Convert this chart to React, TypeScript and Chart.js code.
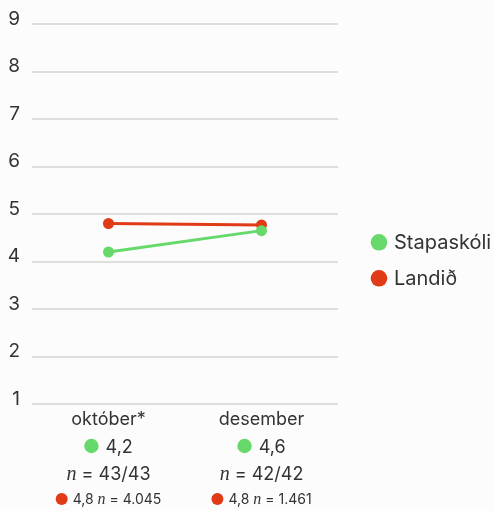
import React, { useEffect, useRef } from "react";
import { Chart, registerables } from "chart.js";

Chart.register(...registerables);

const categories = ["október*", "desember"];
const stapaskoliValues = [4.2, 4.65];
const landidValues = [4.8, 4.77];
const stapaskoliLabels = ["4,2", "4,6"];
const stapaskoliN = ["43/43", "42/42"];
const landidLabels = ["4,8", "4,8"];
const landidN = ["4.045", "1.461"];
const seriesNames = ["Stapaskóli", "Landið"];
const yTicks = [1, 2, 3, 4, 5, 6, 7, 8, 9];

const GREEN = "#66d96a";
const RED = "#e03a16";
const TEXT = "#333333";
const FONT = "Inter";
const NFONT = "'Liberation Serif'";

type Seg = { kind: "text"; text: string; font: string } | { kind: "circle"; r: number; color: string; gap: number; dy: number };

function drawRow(ctx: CanvasRenderingContext2D, cx: number, baseline: number, segs: Seg[]) {
  let total = 0;
  const widths: number[] = [];
  for (const s of segs) {
    if (s.kind === "text") {
      ctx.font = s.font;
      const w = ctx.measureText(s.text).width;
      widths.push(w);
      total += w;
    } else {
      const w = s.r * 2 + s.gap;
      widths.push(w);
      total += w;
    }
  }
  let x = cx - total / 2;
  segs.forEach((s, i) => {
    if (s.kind === "text") {
      ctx.font = s.font;
      ctx.fillStyle = TEXT;
      ctx.textAlign = "left";
      ctx.textBaseline = "alphabetic";
      ctx.fillText(s.text, x, baseline);
    } else {
      ctx.beginPath();
      ctx.fillStyle = s.color;
      ctx.arc(x + s.r, baseline - s.dy, s.r, 0, Math.PI * 2);
      ctx.fill();
    }
    x += widths[i];
  });
}

const labelsPlugin = {
  id: "customLabels",
  afterDraw(chart: any) {
    const ctx: CanvasRenderingContext2D = chart.ctx;
    const xs = chart.scales.x;
    ctx.save();
    categories.forEach((cat, i) => {
      const cx = xs.getPixelForValue(i);
      drawRow(ctx, cx, 424.5, [{ kind: "text", text: cat, font: `18px ${FONT}` }]);
      drawRow(ctx, cx, 452.5, [
        { kind: "circle", r: 7.2, color: GREEN, gap: 7, dy: 6.5 },
        { kind: "text", text: stapaskoliLabels[i], font: `18px ${FONT}` },
      ]);
      drawRow(ctx, cx, 480, [
        { kind: "text", text: "n", font: `italic 20px ${NFONT}` },
        { kind: "text", text: " = " + stapaskoliN[i], font: `18px ${FONT}` },
      ]);
      drawRow(ctx, cx, 503.5, [
        { kind: "circle", r: 6, color: RED, gap: 5, dy: 4.5 },
        { kind: "text", text: landidLabels[i] + " ", font: `14px ${FONT}` },
        { kind: "text", text: "n", font: `italic 16px ${NFONT}` },
        { kind: "text", text: " = " + landidN[i], font: `14px ${FONT}` },
      ]);
    });
    // legend
    const legendColors = [GREEN, RED];
    const legendY = [242.3, 278.3];
    seriesNames.forEach((name, i) => {
      ctx.beginPath();
      ctx.fillStyle = legendColors[i];
      ctx.arc(379, legendY[i], 8.3, 0, Math.PI * 2);
      ctx.fill();
      ctx.font = `20px ${FONT}`;
      ctx.fillStyle = TEXT;
      ctx.textAlign = "left";
      ctx.textBaseline = "middle";
      ctx.fillText(name, 394, legendY[i] + 1);
    });
    ctx.restore();
  },
};

export default function App() {
  const ref = useRef<HTMLCanvasElement | null>(null);
  useEffect(() => {
    if (!ref.current) return;
    const chart = new Chart(ref.current, {
      type: "line",
      data: {
        labels: categories,
        datasets: [
          {
            label: seriesNames[0],
            data: stapaskoliValues,
            borderColor: GREEN,
            backgroundColor: GREEN,
            borderWidth: 3,
            pointRadius: 5.5,
            pointBorderWidth: 0,
          },
          {
            label: seriesNames[1],
            data: landidValues,
            borderColor: RED,
            backgroundColor: RED,
            borderWidth: 3,
            pointRadius: 5.5,
            pointBorderWidth: 0,
          },
        ],
      },
      options: {
        animation: false,
        responsive: false,
        layout: { padding: { top: 24, right: 156, bottom: 107, left: 0 } },
        plugins: { legend: { display: false }, tooltip: { enabled: false } },
        scales: {
          x: { display: false, offset: true },
          y: {
            min: 1,
            max: 9,
            border: { display: false },
            grid: { color: "#dedede", lineWidth: 2, drawTicks: false },
            afterFit(scale: any) {
              scale.width = 32;
            },
            afterBuildTicks(scale: any) {
              scale.ticks = yTicks.map((v) => ({ value: v }));
            },
            ticks: {
              padding: 12,
              labelOffset: -5,
              color: TEXT,
              font: { family: FONT, size: 19 },
            },
          },
        },
      },
      plugins: [labelsPlugin],
    });
    return () => chart.destroy();
  }, []);
  return (
    <div style={{ position: "absolute", left: 0, top: 0, width: 494, height: 511, background: "#fcfcfc" }}>
      <canvas ref={ref} width={494} height={511} />
    </div>
  );
}
